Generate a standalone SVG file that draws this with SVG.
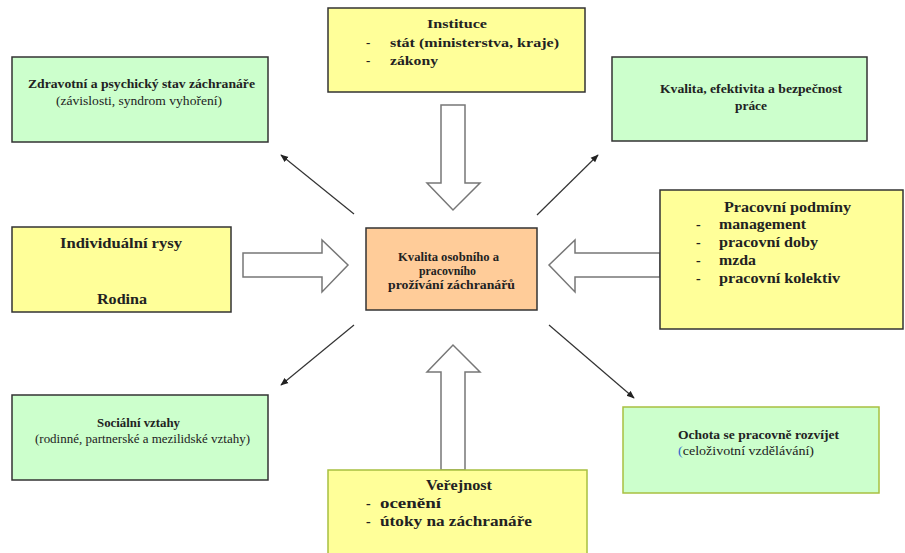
<svg xmlns="http://www.w3.org/2000/svg" width="905" height="553" viewBox="0 0 905 553" font-family="'Times New Roman', 'Liberation Serif', 'Noto Serif', 'DejaVu Serif', Tinos, FreeSerif, serif">
<style>
text{fill:#222;}
.b{font-weight:bold;}
.s11{font-size:11.5px;}
.s12{font-size:12px;}
.s13{font-size:13px;}
.s14{font-size:14px;}
.y{fill:#ffff99;stroke:#333;stroke-width:1.5;}
.g{fill:#ccffcc;stroke:#333;stroke-width:1.5;}
.o{fill:#ffcc99;stroke:#333;stroke-width:1.5;}
.yo{fill:#ffff99;stroke:#a8c040;stroke-width:1.5;}
.go{fill:#ccffcc;stroke:#a8c040;stroke-width:1.5;}
.blk{fill:#fff;stroke:#777;stroke-width:1.5;stroke-linejoin:miter;}
.thin{stroke:#333;stroke-width:1.2;fill:none;marker-end:url(#ah);}
</style>
<defs>
<marker id="ah" viewBox="0 0 10 10" refX="9" refY="5" markerWidth="8" markerHeight="8" markerUnits="userSpaceOnUse" orient="auto">
<path d="M0,1 L10,5 L0,9 z" fill="#222"/>
</marker>
</defs>
<rect width="905" height="553" fill="#fff"/>

<g id="connectors">
<polygon class="blk" points="441,105 465,105 465,183 480,183 453,210 427,183 441,183"/>
<polygon class="blk" points="441,470 465,470 465,372 480,372 453,345 427,372 441,372"/>
<polygon class="blk" points="243,253 322,253 322,240 348,265 322,292 322,277 243,277"/>
<polygon class="blk" points="660,253 575,253 575,240 549,265 575,292 575,277 660,277"/>
<line class="thin" x1="354" y1="214" x2="281" y2="155"/>
<line class="thin" x1="354" y1="325" x2="281" y2="385"/>
<line class="thin" x1="537" y1="215" x2="598" y2="155"/>
<line class="thin" x1="549" y1="325" x2="634" y2="398"/>
</g>

<g id="instituce">
<rect class="y" x="328" y="8" width="257" height="84"/>
<text class="b s13" x="427" y="28" textLength="60" lengthAdjust="spacingAndGlyphs">Instituce</text>
<text class="b s13" x="366" y="47">-</text>
<text class="b s13" x="390" y="47" textLength="169" lengthAdjust="spacingAndGlyphs">stát (ministerstva, kraje)</text>
<text class="b s13" x="366" y="65">-</text>
<text class="b s13" x="390" y="65" textLength="48" lengthAdjust="spacingAndGlyphs">zákony</text>
</g>

<g id="zdravotni">
<rect class="g" x="12" y="57" width="256" height="85"/>
<text class="b s11" x="28" y="88" textLength="227" lengthAdjust="spacingAndGlyphs">Zdravotní a psychický stav záchranáře</text>
<text class="s11" x="56" y="105" textLength="166" lengthAdjust="spacingAndGlyphs">(závislosti, syndrom vyhoření)</text>
</g>

<g id="kvalita-prace">
<rect class="g" x="612" y="57" width="255" height="84"/>
<text class="b s11" x="660" y="93" textLength="182" lengthAdjust="spacingAndGlyphs">Kvalita, efektivita a bezpečnost</text>
<text class="b s11" x="735" y="110" textLength="32" lengthAdjust="spacingAndGlyphs">práce</text>
</g>

<g id="individualni">
<rect class="y" x="12" y="227" width="219" height="85"/>
<text class="b s14" x="60" y="248" textLength="122" lengthAdjust="spacingAndGlyphs">Individuální rysy</text>
<text class="b s14" x="97" y="304" textLength="50" lengthAdjust="spacingAndGlyphs">Rodina</text>
</g>

<g id="center">
<rect class="o" x="366" y="228" width="171" height="82"/>
<text class="b s12" x="398" y="261" textLength="101" lengthAdjust="spacingAndGlyphs">Kvalita osobního a</text>
<text class="b s12" x="419" y="275" textLength="57" lengthAdjust="spacingAndGlyphs">pracovního</text>
<text class="b s12" x="388" y="289" textLength="127" lengthAdjust="spacingAndGlyphs">prožívání záchranářů</text>
</g>

<g id="pracovni">
<rect class="y" x="660" y="190" width="243" height="139"/>
<text class="b s14" x="724" y="212" textLength="127" lengthAdjust="spacingAndGlyphs">Pracovní podmíny</text>
<text class="b s14" x="696" y="229">-</text>
<text class="b s14" x="719" y="229" textLength="87" lengthAdjust="spacingAndGlyphs">management</text>
<text class="b s14" x="696" y="247">-</text>
<text class="b s14" x="719" y="247" textLength="99" lengthAdjust="spacingAndGlyphs">pracovní doby</text>
<text class="b s14" x="696" y="265">-</text>
<text class="b s14" x="719" y="265" textLength="37" lengthAdjust="spacingAndGlyphs">mzda</text>
<text class="b s14" x="696" y="283">-</text>
<text class="b s14" x="719" y="283" textLength="121" lengthAdjust="spacingAndGlyphs">pracovní kolektiv</text>
</g>

<g id="socialni">
<rect class="g" x="12" y="395" width="256" height="85"/>
<text class="b s11" x="97" y="427" textLength="83" lengthAdjust="spacingAndGlyphs">Sociální vztahy</text>
<text class="s11" x="35" y="443" textLength="215" lengthAdjust="spacingAndGlyphs">(rodinné, partnerské a mezilidské vztahy)</text>
</g>

<g id="ochota">
<rect class="go" x="623" y="407" width="256" height="86"/>
<text class="b s11" x="678" y="439" textLength="161" lengthAdjust="spacingAndGlyphs">Ochota se pracovně rozvíjet</text>
<text class="s11" x="678" y="455" textLength="136" lengthAdjust="spacingAndGlyphs"><tspan fill="#3366cc">(</tspan>celoživotní vzdělávání)</text>
</g>

<g id="verejnost">
<rect class="yo" x="328" y="470" width="259" height="90"/>
<text class="b s14" x="426" y="490" textLength="66" lengthAdjust="spacingAndGlyphs">Veřejnost</text>
<text class="b s14" x="366" y="508">-</text>
<text class="b s14" x="380" y="508" textLength="61" lengthAdjust="spacingAndGlyphs">ocenění</text>
<text class="b s14" x="366" y="526">-</text>
<text class="b s14" x="380" y="526" textLength="152" lengthAdjust="spacingAndGlyphs">útoky na záchranáře</text>
</g>
</svg>
